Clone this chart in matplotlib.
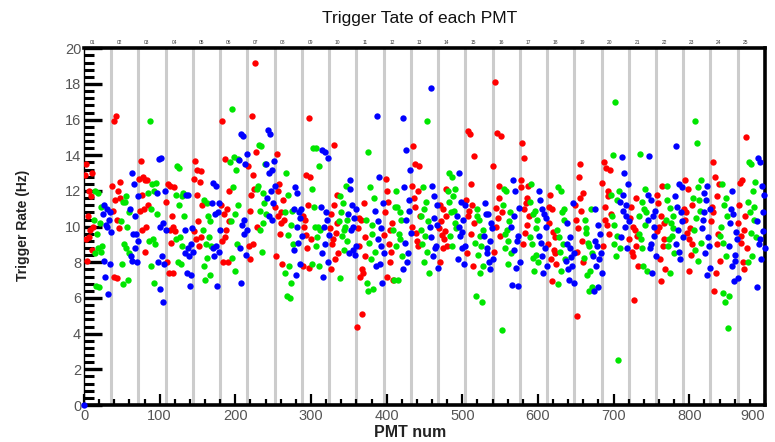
import matplotlib
matplotlib.use("Agg")
import matplotlib.pyplot as plt
from matplotlib.ticker import MultipleLocator
import matplotlib.transforms as mtransforms

plt.rcParams['font.family'] = ['Liberation Sans Narrow', 'Liberation Sans', 'DejaVu Sans']

# ---- data: trigger rate (Hz) per PMT ----
# Each board group of 36 PMTs: 12 "red" channels, 12 "green", 12 "blue" (in PMT order)
n_groups = 25
group_size = 36
sub_size = 12
group_labels = ["%02d" % (i + 1) for i in range(n_groups)]

pmt0_rate = 0.0  # PMT 0, drawn in blue

rate_red = [
    12.9, 9.3, 13.5, 8.1, 10.6, 12.0, 9.4, 9.8, 11.7, 8.7, 13.0, 10.0,      # 01
    12.3, 10.9, 15.9, 7.2, 11.5, 16.2, 10.4, 7.1, 12.0, 9.9, 12.5, 11.6,    # 02
    12.7, 10.9, 13.7, 9.8, 11.8, 12.8, 11.0, 8.6, 12.6, 10.0, 12.6, 11.2,   # 03
    11.4, 8.0, 12.4, 7.4, 9.8, 12.3, 9.1, 10.6, 10.0, 7.4, 12.2, 9.75,      # 04
    12.7, 9.75, 13.7, 9.3, 11.8, 13.2, 10.3, 8.9, 12.5, 9.4, 13.1, 11.2,    # 05
    11.2, 9.2, 15.9, 8.0, 10.7, 13.8, 9.4, 9.8, 11.0, 8.0, 12.0, 10.3,      # 06
    13.4, 8.9, 8.2, 10.9, 11.8, 16.2, 9.0, 12.9, 12.1, 19.2, 14.2, 10.0,    # 07
    11.1, 8.35, 14.1, 12.0, 10.6, 12.4, 9.6, 10.2, 10.8, 7.9, 11.5, 10.4,   # 08
    10.6, 7.8, 10.0, 10.4, 9.55, 12.9, 8.8, 11.2, 16.1, 7.7, 12.8, 9.3,     # 09
    9.9, 10.7, 7.6, 9.0, 9.3, 11.2, 14.6, 8.2, 9.65, 11.8, 10.2, 8.5,       # 10
    4.4, 9.9, 10.5, 8.9, 7.2, 10.4, 5.1, 7.6, 7.4, 11.3, 9.4, 8.35,         # 11
    9.55, 10.8, 12.7, 12.0, 7.2, 11.4, 9.0, 9.8, 8.0, 8.6, 10.2, 7.0,       # 12
    12.3, 10.0, 14.5, 11.6, 11.1, 13.5, 9.65, 9.2, 12.0, 8.9, 13.4, 10.6,   # 13
    9.9, 8.0, 11.2, 10.3, 9.55, 11.0, 8.8, 9.3, 9.75, 12.1, 10.6, 8.9,      # 14
    11.5, 8.5, 15.35, 10.6, 10.9, 15.2, 9.6, 12.4, 11.2, 7.8, 13.95, 10.2,  # 15
    13.4, 8.6, 18.1, 10.0, 11.05, 15.25, 10.5, 11.6, 12.3, 9.5, 15.1, 10.8, # 16
    12.2, 12.6, 14.7, 9.0, 11.0, 13.85, 9.65, 11.3, 11.6, 10.1, 12.3, 10.6, # 17
    9.0, 10.2, 11.1, 11.8, 8.2, 11.0, 6.95, 9.7, 8.7, 8.5, 9.4, 7.9,        # 18
    11.2, 10.4, 5.0, 8.6, 9.9, 12.8, 13.5, 11.6, 10.9, 9.2, 11.9, 8.0,      # 19
    12.45, 8.9, 13.6, 10.4, 11.1, 13.3, 10.1, 11.7, 12.0, 9.6, 13.2, 10.7,  # 20
    9.3, 10.5, 11.1, 8.6, 8.35, 10.0, 5.9, 9.8, 8.9, 11.6, 9.45, 7.8,       # 21
    9.75, 11.8, 11.3, 10.0, 8.2, 10.6, 6.95, 12.3, 8.9, 9.3, 10.2, 7.6,     # 22
    11.0, 10.4, 12.6, 10.8, 9.65, 12.1, 7.5, 9.3, 9.9, 8.4, 11.2, 9.0,      # 23
    10.3, 11.1, 13.65, 10.8, 6.4, 12.8, 7.4, 11.7, 9.0, 9.6, 12.4, 8.1,     # 24
    10.2, 11.2, 12.45, 9.1, 9.5, 12.6, 8.0, 7.6, 9.8, 10.6, 15.0, 8.8,      # 25
]

rate_green = [
    10.4, 8.5, 12.0, 6.7, 9.6, 11.9, 8.8, 6.6, 10.2, 8.6, 11.1, 8.9,        # 01
    10.3, 7.9, 11.4, 6.8, 9.0, 11.4, 8.8, 11.7, 10.0, 7.0, 10.8, 8.5,       # 02
    11.9, 9.2, 15.9, 7.8, 11.0, 12.4, 9.3, 6.85, 12.0, 9.0, 12.45, 10.7,    # 03
    11.8, 9.3, 13.4, 8.0, 11.2, 13.3, 9.4, 7.9, 11.7, 8.9, 11.9, 10.6,      # 04
    9.8, 7.8, 11.5, 7.0, 9.0, 11.3, 8.25, 10.6, 9.4, 7.3, 10.3, 8.9,        # 05
    13.65, 10.3, 16.6, 8.25, 12.2, 13.9, 10.7, 7.5, 13.2, 9.0, 13.8, 11.2,  # 06
    12.1, 12.3, 14.6, 9.8, 10.9, 14.5, 8.6, 10.2, 11.9, 11.3, 13.5, 10.7,   # 07
    10.8, 7.4, 13.0, 6.1, 9.55, 11.8, 7.8, 6.0, 10.1, 6.85, 10.9, 9.0,      # 08
    12.1, 7.9, 14.4, 11.1, 10.0, 14.4, 8.9, 9.4, 10.0, 7.8, 13.4, 9.8,      # 09
    10.3, 7.1, 11.7, 10.8, 9.5, 11.3, 8.7, 9.8, 10.0, 12.3, 10.4, 9.2,      # 10
    10.4, 6.85, 14.2, 6.4, 9.1, 12.2, 8.2, 9.6, 10.1, 6.5, 11.6, 8.6,       # 11
    9.8, 7.0, 11.1, 12.0, 8.9, 11.1, 7.0, 9.6, 9.3, 10.8, 10.4, 8.35,       # 12
    9.8, 10.6, 9.0, 12.2, 8.0, 11.0, 9.5, 11.4, 15.9, 8.6, 10.3, 7.4,       # 13
    12.0, 11.4, 13.0, 9.5, 10.8, 12.8, 8.9, 11.7, 10.9, 10.2, 12.1, 9.9,    # 14
    9.1, 6.1, 10.6, 11.0, 8.4, 10.4, 7.4, 9.5, 8.9, 5.8, 9.8, 7.8,          # 15
    4.2, 11.2, 12.1, 9.6, 8.8, 12.0, 9.8, 7.9, 9.2, 10.3, 10.8, 8.5,        # 16
    9.4, 11.4, 12.4, 9.0, 8.25, 10.7, 7.5, 10.9, 8.4, 9.9, 10.4, 8.0,       # 17
    9.8, 6.8, 12.2, 9.4, 8.6, 12.0, 7.5, 10.8, 9.0, 11.0, 10.4, 8.2,        # 18
    8.25, 10.4, 9.65, 9.9, 7.3, 9.1, 6.4, 8.9, 7.5, 11.0, 8.5, 6.6,         # 19
    11.8, 10.6, 14.0, 10.1, 9.0, 17.0, 8.35, 9.5, 11.5, 2.5, 12.0, 8.8,     # 20
    10.6, 9.6, 14.1, 9.3, 8.8, 11.4, 7.8, 11.0, 10.1, 12.1, 10.8, 7.5,      # 21
    10.4, 11.5, 12.3, 8.9, 9.3, 11.05, 7.4, 10.2, 9.5, 9.9, 10.6, 8.5,      # 22
    11.6, 9.8, 15.9, 8.7, 10.5, 14.7, 8.1, 12.2, 11.5, 10.9, 12.6, 9.1,     # 23
    9.5, 10.0, 12.4, 9.1, 6.3, 11.2, 5.8, 11.6, 8.35, 10.6, 4.3, 6.1,       # 24
    11.4, 8.0, 13.6, 10.8, 9.65, 13.5, 8.35, 12.0, 11.1, 10.4, 12.5, 9.4,   # 25
]

rate_blue = [
    10.7, 8.1, 11.2, 7.2, 10.1, 11.0, 10.0, 6.2, 10.4, 7.9, 10.8, 9.7,      # 01
    11.0, 8.35, 13.0, 8.1, 9.6, 12.4, 8.8, 10.6, 9.6, 8.0, 11.7, 9.2,       # 02
    11.9, 8.0, 13.8, 6.5, 10.0, 13.85, 8.35, 5.8, 10.2, 7.9, 12.0, 9.8,     # 03
    9.8, 8.5, 11.8, 7.4, 8.8, 11.8, 8.35, 6.7, 9.0, 7.3, 9.9, 8.6,          # 04
    11.3, 8.8, 12.45, 8.35, 10.7, 12.3, 8.9, 6.7, 10.8, 8.6, 11.3, 9.8,     # 05
    13.75, 8.8, 15.2, 6.85, 10.1, 15.1, 9.6, 10.4, 13.5, 8.4, 14.1, 9.8,    # 06
    13.5, 11.6, 15.4, 10.6, 13.0, 15.2, 12.0, 10.4, 13.2, 11.3, 13.7, 12.3, # 07
    11.0, 8.7, 12.2, 7.3, 10.0, 11.9, 9.1, 10.8, 10.5, 7.9, 11.0, 9.5,      # 08
    11.1, 8.5, 14.3, 7.2, 10.0, 14.2, 9.0, 10.8, 10.4, 8.0, 13.85, 9.55,    # 09
    10.7, 8.5, 12.1, 12.6, 9.8, 11.2, 8.7, 10.0, 10.5, 8.4, 11.0, 8.9,      # 10
    10.9, 7.8, 16.2, 10.3, 9.3, 12.8, 7.9, 8.9, 9.9, 6.85, 11.3, 8.5,       # 11
    16.1, 7.6, 12.2, 9.1, 10.4, 14.3, 8.0, 8.5, 10.9, 11.5, 13.2, 9.65,     # 12
    10.0, 9.4, 17.8, 12.3, 8.35, 11.7, 10.5, 8.8, 8.9, 11.2, 10.1, 7.7,     # 13
    10.6, 8.2, 13.0, 10.0, 9.5, 11.4, 8.8, 9.7, 10.4, 7.9, 11.2, 8.9,       # 14
    9.5, 11.3, 10.7, 8.8, 8.5, 10.7, 8.0, 7.6, 9.2, 10.2, 9.9, 8.2,         # 15
    10.0, 6.75, 12.6, 10.6, 8.7, 12.0, 7.7, 9.2, 9.5, 6.7, 11.05, 8.0,      # 16
    9.5, 12.0, 11.5, 9.1, 8.35, 11.0, 7.4, 10.7, 8.8, 10.0, 10.5, 7.8,      # 17
    8.1, 9.0, 10.2, 7.6, 7.0, 8.8, 9.4, 8.3, 7.8, 11.3, 8.5, 6.85,          # 18
    8.35, 6.4, 11.0, 9.2, 7.8, 8.9, 6.6, 10.1, 8.2, 9.6, 8.5, 7.4,          # 19
    11.4, 9.4, 13.9, 11.8, 10.9, 13.0, 10.0, 10.6, 11.2, 8.8, 12.4, 10.3,   # 20
    10.4, 11.8, 13.95, 8.8, 9.0, 11.5, 7.4, 10.6, 10.0, 9.5, 10.9, 8.35,    # 21
    11.7, 9.0, 14.5, 11.1, 9.8, 12.4, 8.6, 8.2, 10.8, 10.3, 12.2, 9.4,      # 22
    9.9, 10.4, 11.9, 10.8, 8.5, 11.5, 7.3, 12.3, 9.4, 8.9, 11.0, 7.7,       # 23
    8.9, 10.2, 11.0, 12.0, 7.8, 10.7, 6.95, 8.1, 8.4, 9.7, 9.3, 7.1,        # 24
    10.3, 6.6, 13.85, 9.0, 9.3, 13.65, 8.2, 12.3, 9.75, 10.8, 11.8, 8.8,    # 25
]

colors = {"red": "#ff0000", "green": "#00e600", "blue": "#0000ff"}


def pmt_numbers(offset):
    return [g * group_size + offset + j for g in range(n_groups) for j in range(sub_size)]


x_red = pmt_numbers(1)
x_green = pmt_numbers(1 + sub_size)
x_blue = [0] + pmt_numbers(1 + 2 * sub_size)
y_blue = [pmt0_rate] + rate_blue

fig = plt.figure(figsize=(7.75, 4.42), dpi=100)
ax = fig.add_axes([0.1084, 0.0837, 0.8786, 0.807])
ax.set_xlim(0, 900)
ax.set_ylim(0, 20)

for g in range(1, n_groups):
    ax.axvline(g * group_size, color="#cccccc", lw=2.2, zorder=1)

ms = 21
ax.scatter(x_red, rate_red, s=ms, c=colors["red"], linewidths=0, zorder=3)
ax.scatter(x_green, rate_green, s=ms, c=colors["green"], linewidths=0, zorder=3)
ax.scatter(x_blue, y_blue, s=ms, c=colors["blue"], linewidths=0, zorder=3, clip_on=False)

# axes frame
ax.spines["left"].set_linewidth(1.0)
for s in ("top", "right", "bottom"):
    ax.spines[s].set_linewidth(2.6)

ax.yaxis.set_major_locator(MultipleLocator(2))
ax.yaxis.set_minor_locator(MultipleLocator(0.4))
ax.xaxis.set_major_locator(MultipleLocator(100))
ax.xaxis.set_minor_locator(MultipleLocator(20))
ax.tick_params(axis="y", which="major", direction="in", length=13, width=2.4,
               labelsize=10.5, labelcolor="#555555", pad=2)
ax.tick_params(axis="y", which="minor", direction="in", length=7, width=2.2)
ax.tick_params(axis="x", which="major", direction="in", length=8, width=1.6,
               labelsize=10.5, labelcolor="#555555", pad=3)
ax.tick_params(axis="x", which="minor", direction="in", length=4, width=1.6)
for lab in ax.get_xticklabels():
    if lab.get_text() == "900":
        lab.set_horizontalalignment("right")
        lab.set_x(lab.get_position()[0])

# board group labels above the frame
trans = mtransforms.blended_transform_factory(ax.transData, ax.transAxes)
for g, lab in enumerate(group_labels):
    ax.text(g * group_size + 11, 1.008, lab, transform=trans, ha="center",
            va="bottom", fontsize=3.5, color="#333333")

fig.text(0.542, 0.958, "Trigger Tate of each PMT", ha="center", va="center",
         fontsize=12.5, color="#111111")
fig.text(0.030, 0.489, "Trigger Rate (Hz)", rotation=90, ha="center", va="center",
         fontsize=10, fontweight="bold", color="#222222",
         family=["Liberation Sans", "DejaVu Sans"])
fig.text(0.529, 0.022, "PMT num", ha="center", va="center", fontsize=11.5,
         fontweight="bold", color="#222222")

fig.savefig("out.png", dpi=100)
